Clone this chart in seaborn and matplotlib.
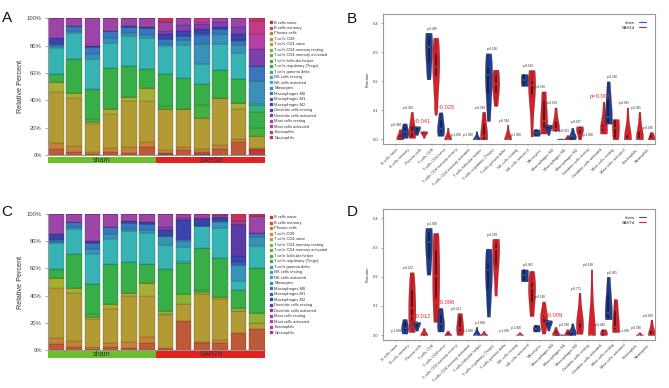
import numpy as np
import pandas as pd
import matplotlib
matplotlib.use("Agg")
import matplotlib.pyplot as plt
import matplotlib.colors as mcolors
from matplotlib.lines import Line2D
import seaborn as sns

# ---- data -------------------------------------------------------------
cell_types = [
    "B cells naive", "B cells memory", "Plasma cells", "T cells CD8",
    "T cells CD4 naive", "T cells CD4 memory resting",
    "T cells CD4 memory activated", "T cells follicular helper",
    "T cells regulatory (Tregs)", "T cells gamma delta", "NK cells resting",
    "NK cells activated", "Monocytes", "Macrophages M0", "Macrophages M1",
    "Macrophages M2", "Dendritic cells resting", "Dendritic cells activated",
    "Mast cells resting", "Mast cells activated", "Eosinophils", "Neutrophils",
]
cell_colors = [
    "#c8363a", "#be5a38", "#c4813a", "#b29a34", "#a6ae35", "#8cb23a",
    "#66b33c", "#45b040", "#38ae48", "#37b07c", "#36b1a0", "#38b3b4",
    "#3892b6", "#3a76be", "#3a5eba", "#3a44ac", "#5a3ca8", "#7e40ae",
    "#9b46a6", "#b43fa6", "#c23a8a", "#c4345c",
]

# percent per cell type (rows) for 6 samples (columns)
sham_pct = [
    [0, 0, 0, 0, 0, 0],
    [4.6, 2.4, 0.5, 2.4, 1.5, 5.5],
    [4.4, 4.1, 1.5, 2.9, 4.5, 4.1],
    [36.6, 35.4, 20.7, 25.1, 33.7, 30.2],
    [7.3, 3.7, 1.2, 3.7, 2.4, 9.3],
    [0, 0, 0, 0, 0, 0],
    [0, 0, 0, 0, 0, 0],
    [0, 0, 2.8, 0, 0, 0],
    [6.3, 25.1, 21.7, 29.8, 22.7, 14.1],
    [0, 0, 0, 0, 0, 0],
    [0, 0, 0, 0, 0, 0],
    [18.8, 19.0, 22.0, 18.5, 22.4, 22.5],
    [1.2, 1.2, 3.5, 3.4, 2.0, 2.4],
    [1.5, 3.7, 4.9, 5.1, 4.1, 4.9],
    [0.3, 0, 0, 0.2, 0, 0],
    [4.0, 0, 1.2, 0, 1.2, 1.0],
    [0, 0, 0, 0, 0, 0],
    [0, 0, 0, 0, 0, 0],
    [14.6, 5.9, 20.0, 9.5, 5.4, 6.0],
    [0, 0, 0, 0, 0, 0],
    [0, 0, 0, 0, 0, 0],
    [0, 0, 0, 0, 0, 0],
]
sah1d_pct = [
    [1.0, 0, 1.0, 0, 0, 3.5],
    [0.5, 3.4, 1.5, 4.5, 9.5, 1.2],
    [2.5, 2.8, 2.2, 2.5, 2.4, 0.5],
    [29.5, 27.7, 22.4, 35.0, 22.0, 8.5],
    [0, 0, 0, 0, 4.0, 0],
    [0, 0, 0, 0, 0, 0],
    [0, 0, 0, 0, 0, 0],
    [2.0, 0, 9.5, 0, 0, 6.1],
    [24.0, 22.4, 15.6, 20.2, 18.0, 11.5],
    [0, 0, 0, 0, 0, 5.0],
    [0, 0, 0, 0, 0, 0],
    [20.0, 23.9, 14.6, 18.8, 19.0, 1.0],
    [2.0, 3.7, 14.6, 7.3, 5.4, 16.5],
    [3.0, 3.0, 6.3, 3.7, 3.2, 11.0],
    [0, 0, 1.5, 0, 0.5, 0],
    [4.0, 4.1, 2.9, 2.0, 4.5, 0],
    [0, 0, 0, 0, 0, 0],
    [2.0, 4.0, 3.7, 3.0, 4.9, 13.0],
    [7.0, 5.0, 0, 3.0, 6.6, 0],
    [0, 0, 1.5, 0, 0, 11.0],
    [0, 0, 2.7, 0, 0, 9.5],
    [2.5, 0, 0, 0, 0, 1.7],
]
sah7d_pct = [
    [0, 0, 0, 0, 0, 0],
    [1.0, 21.5, 5.5, 4.9, 12.7, 15.7],
    [0.5, 0, 0.5, 2.4, 0, 0],
    [24.5, 12.3, 35.0, 30.4, 15.8, 4.5],
    [0.5, 0, 0, 1.5, 0, 0],
    [2.5, 7.5, 1.5, 0, 2.4, 7.3],
    [0, 0, 0, 0, 0, 0],
    [0, 0, 1.5, 0, 0, 0],
    [30.5, 22.8, 31.0, 28.2, 13.5, 33.0],
    [0, 0, 0, 0, 0, 0],
    [0, 1.0, 0, 0, 0, 0],
    [18.0, 10.3, 16.0, 22.0, 6.5, 15.9],
    [6.5, 4.9, 0.5, 4.9, 11.5, 6.6],
    [0, 1.0, 0, 0.5, 0, 2.8],
    [0, 0, 0, 1.0, 2.0, 0],
    [4.5, 14.5, 4.5, 2.2, 4.9, 0.4],
    [0, 0, 0, 0, 22.5, 0],
    [2.0, 1.5, 1.0, 0, 0.5, 0],
    [9.5, 2.7, 3.0, 1.0, 2.4, 12.3],
    [0, 0, 0, 0, 0, 0],
    [0, 0, 0, 1.0, 0, 0],
    [0, 0, 0, 0, 5.3, 1.5],
]

pvals_1d = ["0.480", "0.309", "0.041", "0.485", "0.025", "1.000", "1.000",
            "0.180", "0.180", "0.394", "1.000", "0.699", "0.180", "0.699",
            "0.331", "0.937", "1.000", "0.004", "0.180", "0.065", "0.065",
            "0.180"]
pvals_7d = ["1.000", "0.132", "0.012", "1.000", "0.006", "0.221", "1.000",
            "1.000", "0.589", "1.000", "1.000", "0.065", "0.180", "0.009",
            "0.240", "0.771", "0.180", "0.482", "0.065", "1.000", "0.180",
            "0.099"]

group_colors = {"sham": "#6dbe2d", "SAH1d": "#e5211f", "SAH7d": "#e5211f"}
vio_colors = {"sham": "#1f3f8f", "SAH1d": "#d62128", "SAH7d": "#d62128"}
leg_colors = {"sham": "#3355bb", "SAH1d": "#dd2a2a", "SAH7d": "#dd2a2a"}

# ---- style ------------------------------------------------------------
sns.set_style("ticks")
plt.rcParams["font.family"] = ["Liberation Sans", "DejaVu Sans"]
W, H = 669, 388
fig = plt.figure(figsize=(W / 100, H / 100), dpi=100)


def fr(x0, y0, x1, y1):
    # pixel box -> figure fraction rect
    return [x0 / W, 1 - y1 / H, (x1 - x0) / W, (y1 - y0) / H]


def to_frac(pct):
    m = np.array(pct, dtype=float)
    return m / m.sum(axis=0, keepdims=True)


def long_df(frac, group):
    rows = []
    for k, ct in enumerate(cell_types):
        for s in range(frac.shape[1]):
            rows.append({"cell": ct, "group": group, "frac": frac[k, s]})
    return pd.DataFrame(rows)


def draw_bars(ax, gax, mat, groups):
    n = mat.shape[1]
    x = np.arange(n)
    bottom = np.zeros(n)
    for k in range(len(cell_types)):
        dark = tuple(c * 0.6 for c in mcolors.to_rgb(cell_colors[k]))
        ax.bar(x, mat[k], bottom=bottom, width=0.85, color=cell_colors[k],
               edgecolor=dark, linewidth=0.25)
        bottom += mat[k]
    ax.set_xlim(-0.425, n - 0.575)
    ax.set_ylim(0, 1)
    ax.set_xticks([])
    ax.set_yticks([0, 0.2, 0.4, 0.6, 0.8, 1.0])
    ax.set_yticklabels(["0%", "20%", "40%", "60%", "80%", "100%"])
    ax.tick_params(axis="y", labelsize=4.2, length=2, width=0.5,
                   color="#888888", pad=2.5, labelcolor="#444444")
    ax.set_ylabel("Relative Percent", fontsize=5.2, labelpad=2, color="#333333")
    for s in ["top", "right"]:
        ax.spines[s].set_visible(False)
    for s in ["left", "bottom"]:
        ax.spines[s].set_color("#999999")
        ax.spines[s].set_linewidth(0.8)
    # group band
    per = n // len(groups)
    for gi, g in enumerate(groups):
        gax.bar(x[gi * per:(gi + 1) * per], 1, width=1.0,
                color=group_colors[g], linewidth=0)
        gax.text((gi * per + (gi + 1) * per - 1) / 2, 0.45, g, ha="center",
                 va="center", fontsize=5.2, color="#333333")
    gax.set_xlim(-0.425, n - 0.575)
    gax.set_ylim(0, 1)
    gax.axis("off")


def draw_violins(ax, df, hue_order, pvals):
    mx = df.groupby(["cell", "group"])["frac"].transform("max")
    sub = df[mx > 0]
    sns.violinplot(data=sub, x="cell", y="frac", hue="group", order=cell_types,
                   hue_order=hue_order, palette=vio_colors, saturation=1,
                   density_norm="width", cut=0, inner="box", linewidth=0.25,
                   linecolor=(0.12, 0.05, 0.1, 0.6), width=1.2, gap=0.0,
                   bw_adjust=1.25, legend=False,
                   inner_kws=dict(box_width=1.4, whis_width=0.35), ax=ax)
    top = df.groupby("cell")["frac"].max()
    for i, ct in enumerate(cell_types):
        p = pvals[i]
        if float(p) < 0.05:
            ax.text(i, top[ct] + 0.009, "p=" + p, ha="center", va="bottom",
                    fontsize=4.2, color="#e03030")
        else:
            ax.text(i, top[ct] + 0.007, "p=" + p, ha="center", va="bottom",
                    fontsize=2.2, color="#333333")
    ax.set_xlim(-1.1, 21.6)
    ax.set_ylim(-0.016, 0.432)
    ax.set_yticks([0, 0.1, 0.2, 0.3, 0.4])
    ax.set_yticklabels(["0.0", "0.1", "0.2", "0.3", "0.4"])
    ax.set_xlabel("")
    ax.set_ylabel("Fraction", fontsize=3.2, labelpad=2, color="#333333")
    ax.tick_params(axis="y", labelsize=3.0, length=1.5, width=0.4,
                   color="#666666", pad=2, labelcolor="#444444")
    ax.tick_params(axis="x", labelsize=2.8, length=1.2, width=0.3,
                   color="#666666", pad=1.5, labelcolor="#444444")
    plt.setp(ax.get_xticklabels(), rotation=45, ha="right",
             rotation_mode="anchor")
    for s in ax.spines.values():
        s.set_color("#999999")
        s.set_linewidth(0.8)
    handles = [Line2D([0], [0], color=leg_colors[g], lw=0.8) for g in hue_order]
    ax.legend(handles, hue_order, loc="upper right",
              bbox_to_anchor=(0.975, 0.965), frameon=False, fontsize=3.0,
              markerfirst=False, handlelength=1.8, handletextpad=0.8,
              labelspacing=0.3, borderpad=0)


sham = to_frac(sham_pct)
sah1d = to_frac(sah1d_pct)
sah7d = to_frac(sah7d_pct)

# ---- panel A / C: stacked bars -----------------------------------------
axA = fig.add_axes(fr(48, 18.3, 264.5, 155))
gA = fig.add_axes(fr(48, 156.7, 264.5, 163.3))
draw_bars(axA, gA, np.hstack([sham, sah1d]), ["sham", "SAH1d"])

axC = fig.add_axes(fr(48, 214, 264.5, 350))
gC = fig.add_axes(fr(48, 351.3, 264.5, 358))
draw_bars(axC, gC, np.hstack([sham, sah7d]), ["sham", "SAH7d"])

for top_px in (20.5, 215.5):
    handles = [Line2D([], [], marker="s", ms=1.6, ls="", color=c)
               for c in cell_colors]
    fig.legend(handles, cell_types, loc="upper left",
               bbox_to_anchor=(270 / W, 1 - top_px / H), frameon=False,
               fontsize=2.9, handlelength=0.5, handletextpad=0.6,
               labelspacing=0.37, borderpad=0, borderaxespad=0,
               labelcolor="#333333")

# ---- panel B / D: violins ----------------------------------------------
axB = fig.add_axes(fr(383, 14, 655, 144))
draw_violins(axB, pd.concat([long_df(sham, "sham"), long_df(sah1d, "SAH1d")]),
             ["sham", "SAH1d"], pvals_1d)

axD = fig.add_axes(fr(383, 209, 655, 339.7))
draw_violins(axD, pd.concat([long_df(sham, "sham"), long_df(sah7d, "SAH7d")]),
             ["sham", "SAH7d"], pvals_7d)

# ---- panel letters ------------------------------------------------------
for lab, px, py in [("A", 7, 18), ("B", 351.5, 19), ("C", 6.7, 212),
                    ("D", 352, 212)]:
    fig.text(px / W, 1 - py / H, lab, ha="center", va="center", fontsize=11,
             color="#111111")

fig.savefig("out.png", dpi=100)
